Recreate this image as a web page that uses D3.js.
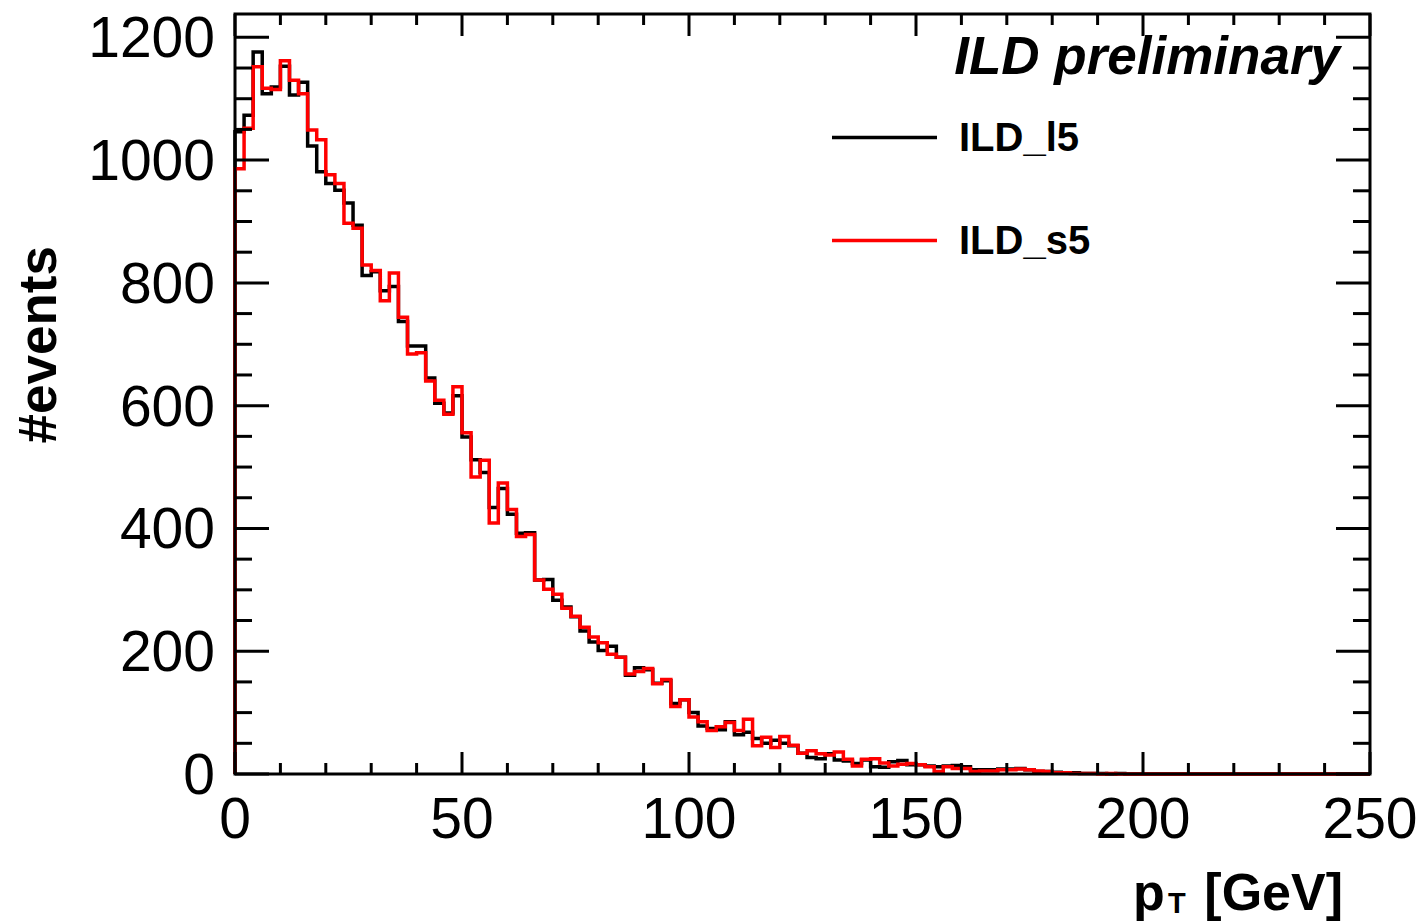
<!DOCTYPE html>
<html>
<head>
<meta charset="utf-8">
<script src="https://cdn.jsdelivr.net/npm/d3@7"></script>
<style>
  html, body { margin: 0; padding: 0; background: #fff; }
  svg { display: block; font-family: "Liberation Sans", Arial, Helvetica, sans-serif; }
</style>
</head>
<body>
<svg id="chart" width="1425" height="922"></svg>
<script>
// ---- Data (2 GeV bins, 0 - 250 GeV) ----
const binWidth = 2;
const xDomain = [0, 250];
const yDomain = [0, 1238];
const xTicksMajor = [0, 50, 100, 150, 200, 250];
const yTicksMajor = [0, 200, 400, 600, 800, 1000, 1200];

const seriesNames = ["ILD_l5", "ILD_s5"];
const seriesColors = ["#000000", "#ff0000"];

const ild_l5 = [
  1046, 1073, 1176, 1108, 1119, 1153, 1106, 1127, 1023, 981,
  962, 951, 930, 894, 812, 818, 787, 794, 737, 697,
  697, 645, 604, 588, 616, 549, 512, 491, 434, 465,
  423, 392, 393, 316, 317, 283, 272, 256, 233, 215,
  201, 208, 190, 161, 173, 170, 148, 152, 115, 121,
  100, 78, 74, 72, 85, 64, 68, 58, 50, 55,
  50, 46, 34, 27, 25, 33, 23, 21, 17, 23,
  12, 11, 20, 22, 15, 15, 13, 12, 13, 14,
  12, 7, 7, 7, 8, 8, 9, 7, 4, 4,
  3, 2, 2, 1, 1, 1, 0, 1, 0, 0,
  0, 0, 0, 0, 0, 0, 0, 0, 0, 0,
  0, 0, 0, 0, 0, 0, 0, 0, 0, 0,
  0, 0, 0, 0, 0
];
const ild_s5 = [
  986, 1052, 1152, 1117, 1115, 1162, 1130, 1108, 1049, 1033,
  976, 962, 897, 889, 829, 820, 771, 816, 744, 684,
  686, 640, 609, 586, 631, 556, 484, 511, 409, 474,
  431, 387, 390, 316, 301, 293, 270, 257, 239, 223,
  214, 195, 190, 163, 167, 172, 147, 154, 110, 121,
  93, 85, 71, 77, 84, 71, 89, 46, 60, 43,
  61, 47, 34, 38, 33, 31, 36, 24, 13, 24,
  25, 18, 13, 16, 17, 15, 12, 4, 12, 9,
  9, 4, 5, 5, 7, 7, 8, 7, 5, 4,
  2, 2, 1, 1, 1, 0, 1, 0, 0, 0,
  0, 0, 0, 0, 0, 0, 0, 0, 0, 0,
  0, 0, 0, 0, 0, 0, 0, 0, 0, 0,
  0, 0, 0, 0, 0
];

// ---- Layout ----
const svg = d3.select("#chart");
const L = 235, R = 1370, T = 14, B = 774;
const x = d3.scaleLinear().domain(xDomain).range([L, R]);
const y = d3.scaleLinear().domain(yDomain).range([B, T]);

// ---- Histograms ----
function stepPoints(vals) {
  const pts = [[xDomain[0], 0]];
  vals.forEach((v, i) => {
    pts.push([i * binWidth, v]);
    pts.push([(i + 1) * binWidth, v]);
  });
  pts.push([xDomain[1], 0]);
  return pts;
}
const line = d3.line().x(d => x(d[0])).y(d => y(d[1]));
const gPlot = svg.append("g");
[ild_l5, ild_s5].forEach((vals, k) => {
  gPlot.append("path")
    .attr("d", line(stepPoints(vals)))
    .attr("fill", "none")
    .attr("stroke", seriesColors[k])
    .attr("stroke-width", 3.5)
    .attr("stroke-linejoin", "miter");
});

// ---- Axes with ROOT-style ticks on all four sides ----
const tickW = 3;
const yMinor = d3.range(yDomain[0], yDomain[1] + 1, 50);
const xMinor = d3.range(xDomain[0], xDomain[1] + 0.001, 10);
const gAx = svg.append("g").attr("stroke", "#000").attr("stroke-width", tickW);

function drawYTicks(values, len) {
  values.forEach(v => {
    gAx.append("line").attr("x1", L).attr("x2", L + len).attr("y1", y(v)).attr("y2", y(v));
    gAx.append("line").attr("x1", R).attr("x2", R - len).attr("y1", y(v)).attr("y2", y(v));
  });
}
function drawXTicks(values, len) {
  values.forEach(v => {
    gAx.append("line").attr("x1", x(v)).attr("x2", x(v)).attr("y1", B).attr("y2", B - len);
    gAx.append("line").attr("x1", x(v)).attr("x2", x(v)).attr("y1", T).attr("y2", T + len);
  });
}
drawYTicks(yMinor.filter(v => v % 200 !== 0), 17);
drawYTicks(yTicksMajor, 34);
drawXTicks(xMinor.filter(v => v % 50 !== 0), 11);
drawXTicks(xTicksMajor, 22);

// Frame
svg.append("rect")
  .attr("x", L).attr("y", T).attr("width", R - L).attr("height", B - T)
  .attr("fill", "none").attr("stroke", "#000").attr("stroke-width", 3);

// Tick labels
svg.append("g").selectAll("text").data(yTicksMajor).join("text")
  .attr("x", 215).attr("y", d => y(d) + 20)
  .attr("text-anchor", "end").attr("font-size", 57)
  .text(d => d);
svg.append("g").selectAll("text").data(xTicksMajor).join("text")
  .attr("x", d => x(d)).attr("y", 838)
  .attr("text-anchor", "middle").attr("font-size", 57)
  .text(d => d);

// Axis titles
svg.append("text")
  .attr("transform", "translate(56,246) rotate(-90)")
  .attr("text-anchor", "end").attr("font-size", 53).attr("font-weight", "bold")
  .text("#events");

const xt = svg.append("text").attr("font-weight", "bold");
xt.append("tspan").attr("x", 1133).attr("y", 910).attr("font-size", 52).text("p");
xt.append("tspan").attr("x", 1168).attr("y", 913).attr("font-size", 29).text("T");
svg.append("text").attr("x", 1343).attr("y", 910).attr("text-anchor", "end")
  .attr("font-size", 52).attr("font-weight", "bold").text("[GeV]");

// ILD preliminary
svg.append("text")
  .attr("x", 1340).attr("y", 74).attr("text-anchor", "end")
  .attr("font-size", 53).attr("font-weight", "bold").attr("font-style", "italic")
  .text("ILD preliminary");

// Legend
const legY = [137.5, 240.5];
seriesNames.forEach((name, k) => {
  svg.append("line")
    .attr("x1", 832).attr("x2", 937).attr("y1", legY[k]).attr("y2", legY[k])
    .attr("stroke", seriesColors[k]).attr("stroke-width", 3.5);
  svg.append("text")
    .attr("x", 959).attr("y", legY[k] + 13)
    .attr("font-size", 40).attr("font-weight", "bold")
    .text(name);
});
</script>
</body>
</html>
